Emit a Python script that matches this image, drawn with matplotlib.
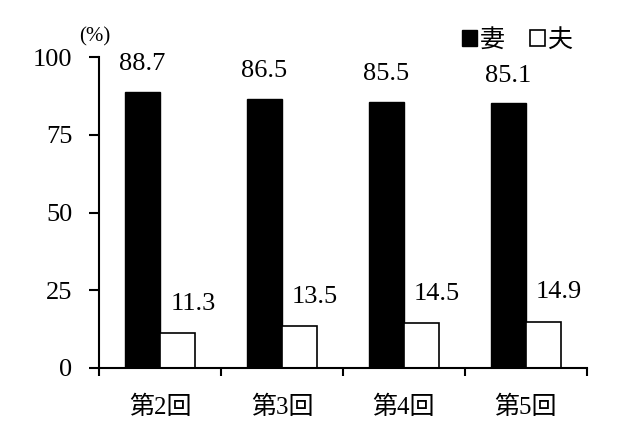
import numpy as np
import matplotlib.pyplot as plt
from matplotlib.ticker import FixedLocator
from matplotlib.patches import Patch

cats = ['第2回', '第3回', '第4回', '第5回']
wife = [88.7, 86.5, 85.5, 85.1]
husband = [11.3, 13.5, 14.5, 14.9]
yticks = [0, 25, 50, 75, 100]

fam = ['Liberation Serif', 'Noto Sans CJK JP', 'DejaVu Sans']
plt.rcParams['font.family'] = fam

fig = plt.figure(figsize=(6.4, 4.26), dpi=100)
ax = fig.add_axes([0.1547, 0.1362, 0.7623, 0.7298])

x = np.arange(len(cats))
w = 0.29
ax.bar(x - w/2, wife, w, color='black', edgecolor='black', linewidth=1)
ax.bar(x + w/2, husband, w, color='white', edgecolor='black', linewidth=1.2)

for i in range(len(cats)):
    ax.annotate('%.1f' % wife[i], (x[i] - w/2, wife[i]), xytext=(0, 20),
                textcoords='offset points', ha='center', va='center', fontsize=19)
    ax.annotate('%.1f' % husband[i], (x[i] + w/2, husband[i]), xytext=(11, 21),
                textcoords='offset points', ha='center', va='center', fontsize=19)

ax.set_xlim(-0.5, len(cats) - 0.5)
ax.set_ylim(0, 100)
ax.set_yticks(yticks)
ax.set_yticklabels([str(v) for v in yticks], fontsize=19)
ax.set_xticks(x)
ax.set_xticklabels(cats, fontsize=18)
ax.tick_params(axis='x', which='major', length=0, pad=20)
ax.xaxis.set_minor_locator(FixedLocator(np.arange(-0.5, len(cats), 1.0)))
ax.tick_params(axis='x', which='minor', length=6, width=1.5, direction='out')
ax.tick_params(axis='y', length=7, width=1.5, pad=12)

for s in ['top', 'right']:
    ax.spines[s].set_visible(False)
ax.spines['left'].set_linewidth(1.5)
ax.spines['bottom'].set_linewidth(1.5)

fig.text(95/640, 1 - 37/426, '(%)', fontsize=15, ha='center', va='center')

handles = [Patch(facecolor='black', edgecolor='black', label='妻'),
           Patch(facecolor='white', edgecolor='black', linewidth=1.2, label='夫')]
fig.legend(handles=handles, ncol=2, frameon=False, loc='center left',
           bbox_to_anchor=(462/640, 1 - 40/426), fontsize=18,
           handlelength=0.6, handleheight=0.6, handletextpad=0.1,
           columnspacing=1.0, borderaxespad=0, borderpad=0,
           prop={'family': ['Noto Sans CJK JP'], 'size': 18})

fig.savefig('out.png', dpi=100)
